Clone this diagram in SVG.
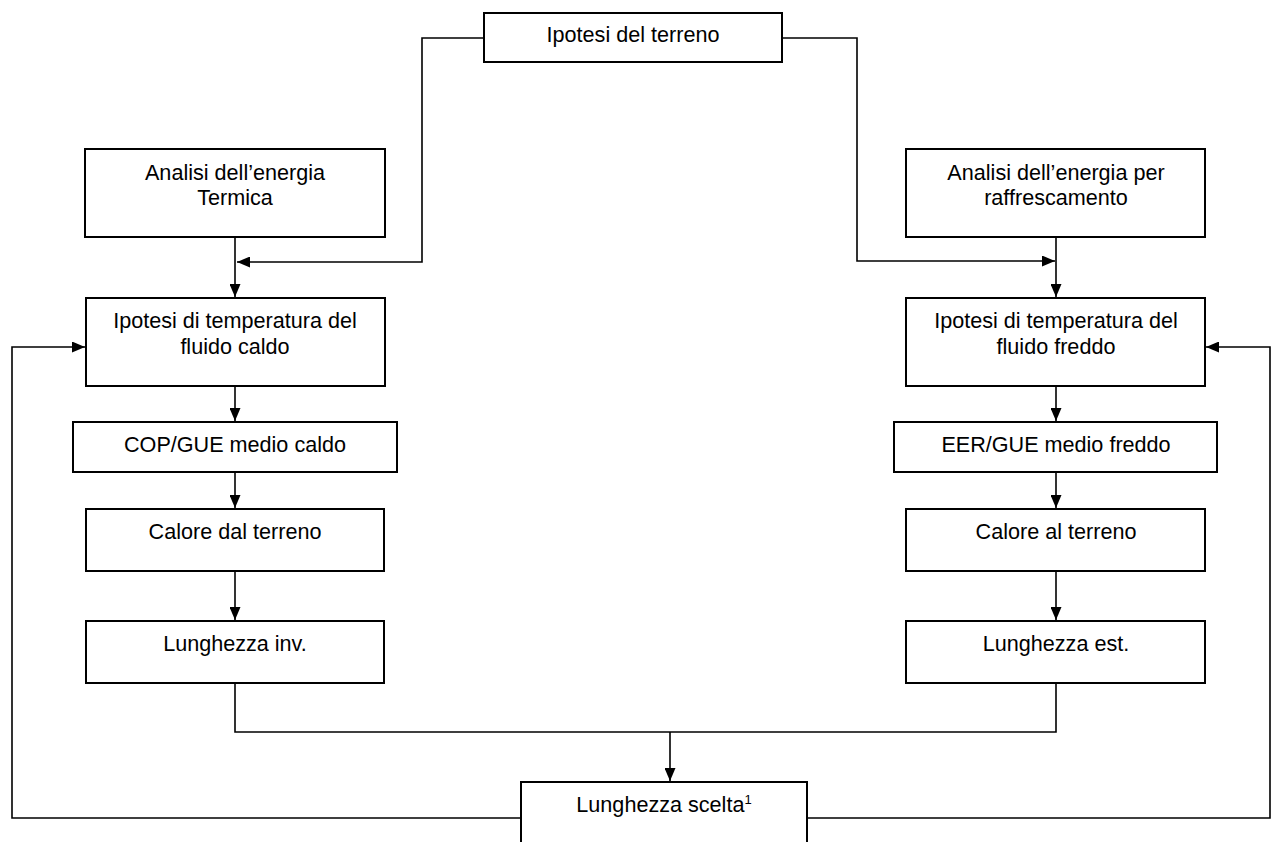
<svg xmlns="http://www.w3.org/2000/svg" width="1271" height="842" viewBox="0 0 1271 842">
<style>
.box{fill:#fff;stroke:#000;stroke-width:2}
.t{font-family:"Liberation Sans",Arial,sans-serif;font-size:21.6px;fill:#000;text-anchor:middle}
.c{fill:none;stroke:#000;stroke-width:1.6}
</style>
<defs>
<marker id="ah" markerUnits="userSpaceOnUse" markerWidth="14" markerHeight="11" refX="13" refY="5.5" orient="auto">
<path d="M0,0 L13,5.5 L0,11 z" fill="#000"/>
</marker>
</defs>
<rect width="1271" height="842" fill="#fff"/>
<g id="connectors">
<path class="c" d="M484,38 H422 V262 H237" marker-end="url(#ah)"/>
<path class="c" d="M782,38 H857 V261 H1055" marker-end="url(#ah)"/>
<path class="c" d="M235,237 V297" marker-end="url(#ah)"/>
<path class="c" d="M235,386 V421" marker-end="url(#ah)"/>
<path class="c" d="M235,472 V508" marker-end="url(#ah)"/>
<path class="c" d="M235,571 V620" marker-end="url(#ah)"/>
<path class="c" d="M1056,237 V297" marker-end="url(#ah)"/>
<path class="c" d="M1056,386 V421" marker-end="url(#ah)"/>
<path class="c" d="M1056,472 V508" marker-end="url(#ah)"/>
<path class="c" d="M1056,571 V620" marker-end="url(#ah)"/>
<path class="c" d="M235,683 V732 H1056 V683"/>
<path class="c" d="M670,732 V781" marker-end="url(#ah)"/>
<path class="c" d="M521,818 H12 V347 H85" marker-end="url(#ah)"/>
<path class="c" d="M807,818 H1270 V347 H1206" marker-end="url(#ah)"/>
</g>
<g id="n_terreno">
<rect class="box" x="484" y="13" width="298" height="49"/>
<text class="t" x="633" y="42">Ipotesi del terreno</text>
</g>
<g id="n_analisi_termica">
<rect class="box" x="85" y="149" width="300" height="88"/>
<text class="t" x="235" y="180">Analisi dell’energia</text>
<text class="t" x="235" y="205">Termica</text>
</g>
<g id="n_analisi_raffr">
<rect class="box" x="906" y="149" width="299" height="88"/>
<text class="t" x="1056" y="180">Analisi dell’energia per</text>
<text class="t" x="1056" y="205">raffrescamento</text>
</g>
<g id="n_ipotesi_caldo">
<rect class="box" x="86" y="298" width="299" height="88"/>
<text class="t" x="235" y="328">Ipotesi di temperatura del</text>
<text class="t" x="235" y="354">fluido caldo</text>
</g>
<g id="n_ipotesi_freddo">
<rect class="box" x="906" y="298" width="299" height="88"/>
<text class="t" x="1056" y="328">Ipotesi di temperatura del</text>
<text class="t" x="1056" y="354">fluido freddo</text>
</g>
<g id="n_cop">
<rect class="box" x="73" y="422" width="324" height="50"/>
<text class="t" x="235" y="452">COP/GUE medio caldo</text>
</g>
<g id="n_eer">
<rect class="box" x="894" y="422" width="323" height="50"/>
<text class="t" x="1056" y="452">EER/GUE medio freddo</text>
</g>
<g id="n_calore_dal">
<rect class="box" x="86" y="509" width="298" height="62"/>
<text class="t" x="235" y="539">Calore dal terreno</text>
</g>
<g id="n_calore_al">
<rect class="box" x="906" y="509" width="299" height="62"/>
<text class="t" x="1056" y="539">Calore al terreno</text>
</g>
<g id="n_lung_inv">
<rect class="box" x="86" y="621" width="298" height="62"/>
<text class="t" x="235" y="651">Lunghezza inv.</text>
</g>
<g id="n_lung_est">
<rect class="box" x="906" y="621" width="299" height="62"/>
<text class="t" x="1056" y="651">Lunghezza est.</text>
</g>
<g id="n_lung_scelta">
<rect class="box" x="521" y="782" width="286" height="70"/>
<text class="t" x="664" y="812">Lunghezza scelta<tspan font-size="13" dy="-8">1</tspan></text>
</g>
</svg>
